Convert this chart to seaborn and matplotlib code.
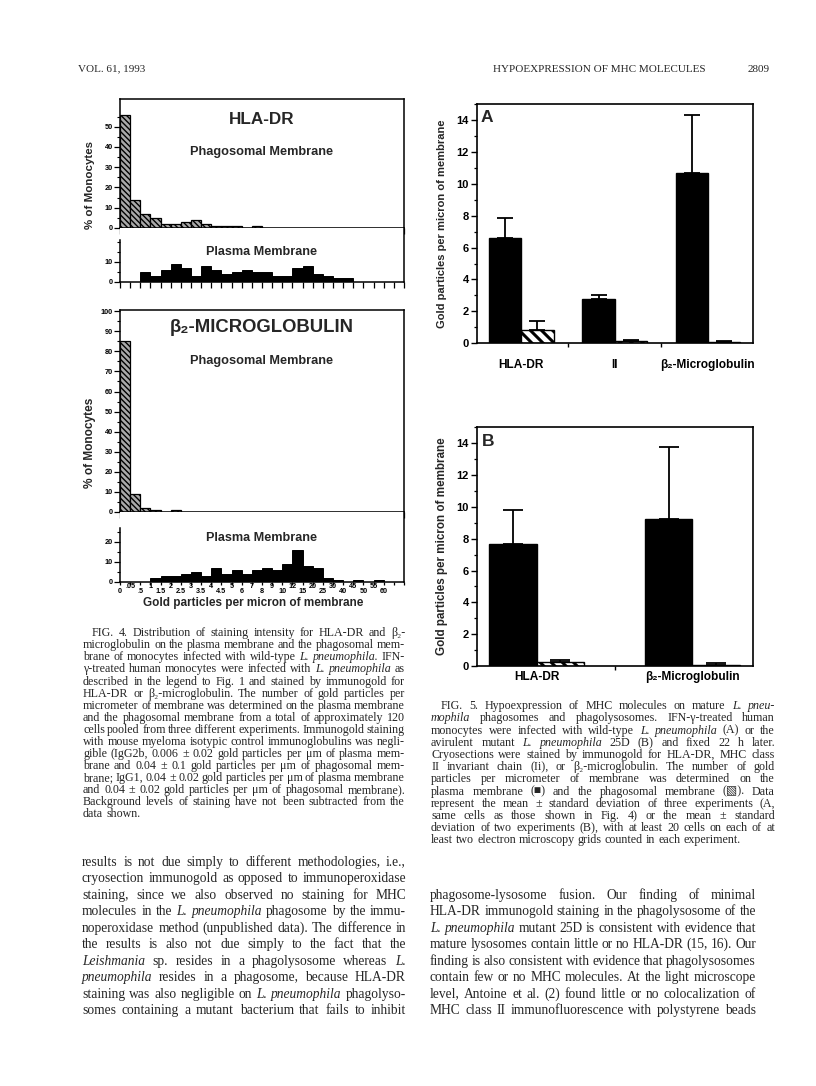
import numpy as np
import pandas as pd
import matplotlib
matplotlib.use("Agg")
import matplotlib.pyplot as plt
import seaborn as sns
from matplotlib.ticker import FixedLocator, MultipleLocator

# ---------------- Fig. 4 data (% of monocytes per staining bin) ----------------
edge_labels = ["0", ".05", ".5", "1", "1.5", "2", "2.5", "3", "3.5", "4", "4.5", "5",
               "6", "7", "8", "9", "10", "12", "15", "20", "25", "30", "40", "45",
               "50", "55", "60"]
bin_ids = list(range(28))
hla_phago = [56, 14, 7, 5, 2, 2, 3, 4, 2, 1, 1, 1, 0, 1,
             0, 0, 0, 0, 0, 0, 0, 0, 0, 0, 0, 0, 0, 0]
hla_plasma = [0, 0, 5, 3, 6, 9, 7, 3, 8, 6, 4, 5, 6, 5,
              5, 3, 3, 7, 8, 4, 3, 2, 2, 0, 0, 0, 0, 0]
b2m_phago = [85, 9, 2, 1, 0, 1, 0, 0, 0, 0, 0, 0, 0, 0,
             0, 0, 0, 0, 0, 0, 0, 0, 0, 0, 0, 0, 0, 0]
b2m_plasma = [0, 0, 0, 2, 3, 3, 4, 5, 3, 7, 4, 6, 4, 6,
              7, 6, 9, 16, 8, 7, 2, 1, 0, 1, 0, 1, 0, 0]

# ---------------- Fig. 5 data (gold particles per micron) ----------------
a_groups = ["HLA-DR", "II", "β₂-Microglobulin"]
a_plasma = [6.6, 2.8, 10.65]
a_plasma_sd = [1.25, 0.22, 3.65]
a_phago = [0.85, 0.12, 0.08]
a_phago_sd = [0.55, 0.10, 0.08]
b_groups = ["HLA-DR", "β₂-Microglobulin"]
b_plasma = [7.65, 9.25]
b_plasma_sd = [2.15, 4.55]
b_phago = [0.27, 0.08]
b_phago_sd = [0.13, 0.12]

SANS = ["Liberation Sans", "DejaVu Sans"]
SERIF = ["Liberation Serif", "DejaVu Serif", "DejaVu Sans"]

sns.set_theme(style="ticks")
plt.rcParams.update({
    "font.family": SANS,
    "font.weight": "bold",
    "axes.edgecolor": "black",
    "axes.linewidth": 1.1,
    "xtick.color": "black",
    "ytick.color": "black",
    "hatch.color": "black",
    "hatch.linewidth": 1.0,
})

W, H = 816, 1086
fig = plt.figure(figsize=(W / 100, H / 100), dpi=100)
fig.patch.set_facecolor("white")
renderer = fig.canvas.get_renderer()


def add_ax(x0, y0, x1, y1):
    return fig.add_axes([x0 / W, 1 - y1 / H, (x1 - x0) / W, (y1 - y0) / H])


tax = fig.add_axes([0, 0, 1, 1], zorder=5)
tax.set_xlim(0, W)
tax.set_ylim(H, 0)
tax.axis("off")


def set_hlw(p, lw):
    f = getattr(p, "set_hatch_linewidth", None)
    if f is not None:
        f(lw)


# ---------------- Fig. 4 panels ----------------
HX0, HX1 = 120, 404


def hist_axes(y0, y1, values, hatched, ymax):
    ax = add_ax(HX0, y0, HX1, y1)
    df = pd.DataFrame({"bin": bin_ids, "pct": values})
    sns.barplot(data=df, x="bin", y="pct", order=bin_ids, ax=ax, width=1.0,
                color="black", saturation=1, edgecolor="black", linewidth=0.7,
                errorbar=None)
    if hatched:
        for p in ax.patches:
            p.set_facecolor("#a9a9a9")
            p.set_hatch("\\\\\\\\\\\\")
            p.set_linewidth(0.9)
            set_hlw(p, 1.0)
    ax.set_xlim(-0.5, 27.5)
    ax.set_ylim(0, ymax)
    ax.set_xlabel("")
    ax.set_ylabel("")
    ax.set_xticks(np.arange(-0.5, 28, 1))
    ax.tick_params(axis="x", which="major", direction="out", length=4.5, width=0.9,
                   labelbottom=False)
    ax.tick_params(axis="y", which="major", direction="out", length=4, width=0.9,
                   labelsize=5.3, pad=1.2)
    ax.tick_params(axis="y", which="minor", direction="out", length=2.3, width=0.8)
    for s in ax.spines.values():
        s.set_linewidth(1.1)
    return ax


# HLA-DR phagosomal
ax1 = hist_axes(99, 228, hla_phago, True, 63.7)
ax1.yaxis.set_major_locator(FixedLocator([0, 10, 20, 30, 40, 50]))
ax1.yaxis.set_minor_locator(FixedLocator([5, 15, 25, 35, 45, 55]))
# HLA-DR plasma
ax2 = hist_axes(228, 282, hla_plasma, False, 27)
ax2.yaxis.set_major_locator(FixedLocator([0, 10]))
ax2.yaxis.set_minor_locator(FixedLocator([5, 15, 20]))
ax2.spines["top"].set_visible(False)
ax2.spines["left"].set_bounds(0, 21)
# beta2 phagosomal
ax3 = hist_axes(310, 512, b2m_phago, True, 100.6)
ax3.yaxis.set_major_locator(FixedLocator(list(range(0, 101, 10))))
ax3.yaxis.set_minor_locator(FixedLocator(list(range(5, 100, 10))))
# beta2 plasma
ax4 = hist_axes(512, 582, b2m_plasma, False, 35)
ax4.yaxis.set_major_locator(FixedLocator([0, 10, 20]))
ax4.yaxis.set_minor_locator(FixedLocator([5, 15, 25]))
ax4.spines["top"].set_visible(False)
ax4.spines["left"].set_bounds(0, 27)
edges = np.arange(-0.5, 28, 1)
maj_pos = [edges[k] for k in range(0, 29, 2)]
maj_lab = [edge_labels[k] if k < len(edge_labels) else "" for k in range(0, 29, 2)]
min_pos = [edges[k] for k in range(1, 29, 2)]
min_lab = [edge_labels[k] if k < len(edge_labels) else "" for k in range(1, 29, 2)]
ax4.set_xticks(maj_pos, maj_lab)
ax4.set_xticks(min_pos, min_lab, minor=True)
ax4.tick_params(axis="x", which="major", direction="out", length=2.2, width=0.9,
                labelbottom=True, labelsize=5.2, pad=2.4)
ax4.tick_params(axis="x", which="minor", direction="out", length=2.2, width=0.9,
                labelbottom=True, labelsize=5.2, pad=-1.4)

# ---------------- Fig. 5 panels ----------------


def fig5_axes(y0, y1, groups, plasma, plasma_sd, phago, phago_sd, width, capsize,
              ymax, label_pad):
    ax = add_ax(476.7, y0, 752.5, y1)
    df = pd.DataFrame({
        "group": groups + groups,
        "value": plasma + phago,
        "membrane": ["Plasma"] * len(groups) + ["Phagosomal"] * len(groups),
    })
    sns.barplot(data=df, x="group", y="value", hue="membrane", order=groups,
                hue_order=["Plasma", "Phagosomal"],
                palette={"Plasma": "black", "Phagosomal": "white"},
                width=width, saturation=1, edgecolor="black", linewidth=1.0,
                errorbar=None, legend=False, ax=ax)
    for p in ax.containers[1]:
        p.set_hatch("\\\\\\")
        set_hlw(p, 2.2)
    for cont, sds in zip(ax.containers, [plasma_sd, phago_sd]):
        xs = [b.get_x() + b.get_width() / 2 for b in cont]
        ys = [b.get_height() for b in cont]
        ax.errorbar(xs, ys, yerr=[[0] * len(sds), sds], fmt="none", ecolor="black",
                    elinewidth=1.3, capsize=capsize, capthick=1.3, zorder=3)
    ax.set_ylim(0, ymax)
    ax.set_xlabel("")
    ax.set_ylabel("")
    ax.yaxis.set_major_locator(MultipleLocator(2))
    ax.yaxis.set_minor_locator(MultipleLocator(1))
    ax.tick_params(axis="y", which="major", direction="out", length=4.3, width=1.0,
                   labelsize=8, pad=1.5)
    ax.tick_params(axis="y", which="minor", direction="out", length=2.5, width=0.9)
    ax.set_xticks(range(len(groups)), groups)
    ax.set_xticks(np.arange(len(groups) - 1) + 0.5, minor=True)
    ax.tick_params(axis="x", which="major", length=0, labelsize=8.6, pad=label_pad)
    ax.tick_params(axis="x", which="minor", direction="out", length=3, width=1.0)
    for s in ax.spines.values():
        s.set_visible(True)
        s.set_linewidth(1.2)
    return ax


axA = fig5_axes(104, 343.3, a_groups, a_plasma, a_plasma_sd, a_phago, a_phago_sd,
                0.69, 5.5, 15.0, 11.5)
axB = fig5_axes(426.7, 666, b_groups, b_plasma, b_plasma_sd, b_phago, b_phago_sd,
                0.61, 7.5, 15.05, 3.5)

# ---------------- overlay text ----------------


def fit_text(x, y, s, length, rotation=0, **kw):
    t = tax.text(x, y, s, fontsize=10, ha="center", va="center", rotation=rotation,
                 **kw)
    bb = t.get_window_extent(renderer)
    cur = bb.height if rotation else bb.width
    t.set_fontsize(10 * length / cur)
    return t


fit_text(262, 120, "HLA-DR", 65, weight="bold")
fit_text(262, 152, "Phagosomal Membrane", 143, weight="bold")
fit_text(262, 252, "Plasma Membrane", 111, weight="bold")
fit_text(90, 185, "% of Monocytes", 87, rotation=90, weight="bold")
fit_text(262, 327, "β₂-MICROGLOBULIN", 183, weight="bold")
fit_text(262, 361, "Phagosomal Membrane", 143, weight="bold")
fit_text(262, 538, "Plasma Membrane", 111, weight="bold")
fit_text(90, 443, "% of Monocytes", 90, rotation=90, weight="bold")
fit_text(253, 603, "Gold particles per micron of membrane", 219, weight="bold")

tax.text(487, 118, "A", fontsize=12.5, weight="bold", ha="center", va="center")
tax.text(488, 441.7, "B", fontsize=12.5, weight="bold", ha="center", va="center")
fit_text(442, 224, "Gold particles per micron of membrane", 209, rotation=90, weight="bold")
fit_text(442, 546, "Gold particles per micron of membrane", 218, rotation=90, weight="bold")

# header
tax.text(78, 69, "VOL. 61, 1993", fontsize=8, family=SERIF, weight="normal",
         ha="left", va="center")
tax.text(706, 69, "HYPOEXPRESSION OF MHC MOLECULES", fontsize=8, family=SERIF,
         weight="normal", ha="right", va="center")
tax.text(770, 69, "2809", fontsize=8, family=SERIF, weight="normal", ha="right",
         va="center")


def parse(line):
    out = []
    for w in line.split(" "):
        if len(w) > 2 and w.startswith("_") and w.endswith("_"):
            out.append((w[1:-1], True))
        else:
            out.append((w, False))
    return out


def word_widths(words, size):
    ws = []
    for w, it in words:
        t = tax.text(0, 0, w, fontsize=size, family=SERIF, weight="normal",
                     style="italic" if it else "normal")
        ws.append(t.get_window_extent(renderer).width)
        t.remove()
    return ws


def paragraphs(blocks, base=10.0, space_em=0.2):
    base_px = base * 100 / 72
    scale = 10.0
    for b in blocks:
        n = len(b["lines"])
        for i, line in enumerate(b["lines"]):
            if i == n - 1 and not b["justify_last"]:
                continue
            words = parse(line)
            ws = word_widths(words, base)
            nat = sum(ws) + (len(ws) - 1) * space_em * base_px
            avail = b["x1"] - b["x0"] - (b["indent"] if i == 0 else 0)
            scale = min(scale, avail / nat)
    size = base * scale * 0.998
    px = size * 100 / 72
    sp = 0.25 * px
    for b in blocks:
        n = len(b["lines"])
        for i, line in enumerate(b["lines"]):
            words = parse(line)
            yb = b["y0"] + i * b["dy"] + 0.27 * px
            xs = b["x0"] + (b["indent"] if i == 0 else 0)
            ts = [tax.text(0, yb, w, fontsize=size, family=SERIF, weight="normal",
                           style="italic" if it else "normal", ha="left",
                           va="baseline")
                  for w, it in words]
            ws = [t.get_window_extent(renderer).width for t in ts]
            if i == n - 1 and not b["justify_last"]:
                gap = sp
            else:
                gap = (b["x1"] - xs - sum(ws)) / max(len(ws) - 1, 1)
            x = xs
            for t, w in zip(ts, ws):
                t.set_x(x)
                x += w + gap


cap4 = [
    "FIG. 4. Distribution of staining intensity for HLA-DR and β₂-",
    "microglobulin on the plasma membrane and the phagosomal mem-",
    "brane of monocytes infected with wild-type _L._ _pneumophila._ IFN-",
    "γ-treated human monocytes were infected with _L._ _pneumophila_ as",
    "described in the legend to Fig. 1 and stained by immunogold for",
    "HLA-DR or β₂-microglobulin. The number of gold particles per",
    "micrometer of membrane was determined on the plasma membrane",
    "and the phagosomal membrane from a total of approximately 120",
    "cells pooled from three different experiments. Immunogold staining",
    "with mouse myeloma isotypic control immunoglobulins was negli-",
    "gible (IgG2b, 0.006 ± 0.02 gold particles per μm of plasma mem-",
    "brane and 0.04 ± 0.1 gold particles per μm of phagosomal mem-",
    "brane; IgG1, 0.04 ± 0.02 gold particles per μm of plasma membrane",
    "and 0.04 ± 0.02 gold particles per μm of phagosomal membrane).",
    "Background levels of staining have not been subtracted from the",
    "data shown.",
]
cap5 = [
    "FIG. 5. Hypoexpression of MHC molecules on mature _L._ _pneu-_",
    "_mophila_ phagosomes and phagolysosomes. IFN-γ-treated human",
    "monocytes were infected with wild-type _L._ _pneumophila_ (A) or the",
    "avirulent mutant _L._ _pneumophila_ 25D (B) and fixed 22 h later.",
    "Cryosections were stained by immunogold for HLA-DR, MHC class",
    "II invariant chain (Ii), or β₂-microglobulin. The number of gold",
    "particles per micrometer of membrane was determined on the",
    "plasma membrane (■) and the phagosomal membrane (▧). Data",
    "represent the mean ± standard deviation of three experiments (A,",
    "same cells as those shown in Fig. 4) or the mean ± standard",
    "deviation of two experiments (B), with at least 20 cells on each of at",
    "least two electron microscopy grids counted in each experiment.",
]
body_left = [
    "results is not due simply to different methodologies, i.e.,",
    "cryosection immunogold as opposed to immunoperoxidase",
    "staining, since we also observed no staining for MHC",
    "molecules in the _L._ _pneumophila_ phagosome by the immu-",
    "noperoxidase method (unpublished data). The difference in",
    "the results is also not due simply to the fact that the",
    "_Leishmania_ sp. resides in a phagolysosome whereas _L._",
    "_pneumophila_ resides in a phagosome, because HLA-DR",
    "staining was also negligible on _L._ _pneumophila_ phagolyso-",
    "somes containing a mutant bacterium that fails to inhibit",
]
body_right = [
    "phagosome-lysosome fusion. Our finding of minimal",
    "HLA-DR immunogold staining in the phagolysosome of the",
    "_L._ _pneumophila_ mutant 25D is consistent with evidence that",
    "mature lysosomes contain little or no HLA-DR (15, 16). Our",
    "finding is also consistent with evidence that phagolysosomes",
    "contain few or no MHC molecules. At the light microscope",
    "level, Antoine et al. (2) found little or no colocalization of",
    "MHC class II immunofluorescence with polystyrene beads",
]

paragraphs([
    dict(lines=cap4, x0=83, x1=405, y0=633, dy=12.07, indent=9, justify_last=False),
    dict(lines=cap5, x0=431, x1=775, y0=706, dy=12.2, indent=10, justify_last=False),
])
paragraphs([
    dict(lines=body_left, x0=82, x1=406, y0=862, dy=16.5, indent=0, justify_last=True),
    dict(lines=body_right, x0=430, x1=756, y0=895, dy=16.5, indent=0, justify_last=True),
])

fig.savefig("out.png", dpi=100, facecolor="white")
